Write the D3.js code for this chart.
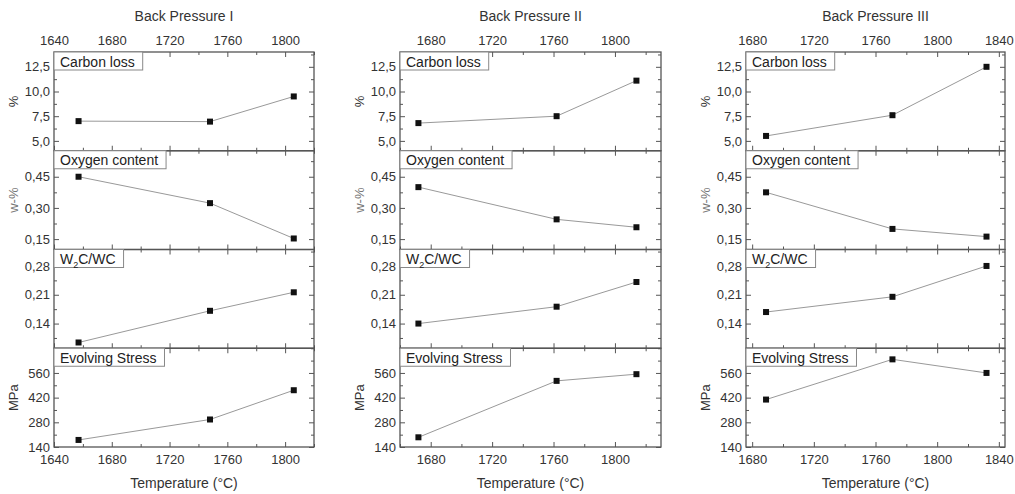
<!DOCTYPE html>
<html>
<head>
<meta charset="utf-8">
<script src="https://cdn.jsdelivr.net/npm/d3@7"></script>
<style>
  body { margin: 0; background: #fff; }
  svg { font-family: "Liberation Sans", Arial, sans-serif; }
  .tick text { fill: #333; font-size: 13px; }
  .tick line { stroke: #555; }
</style>
</head>
<body>
<div id="chart"></div>
<script>
// data
const columnTitles = ["Back Pressure I", "Back Pressure II", "Back Pressure III"]
const temperatures = [[1657, 1748, 1806], [1672, 1762, 1814], [1689, 1771, 1832]]
const carbonLoss = [[7.0, 6.95, 9.5], [6.8, 7.5, 11.1], [5.5, 7.6, 12.5]]
const oxygenContent = [[0.45, 0.323, 0.153], [0.40, 0.245, 0.207], [0.375, 0.199, 0.162]]
const w2cRatio = [[0.094, 0.171, 0.216], [0.140, 0.181, 0.241], [0.168, 0.205, 0.280]]
const evolvingStress = [[180, 296, 462], [195, 515, 553], [409, 637, 560]]

const xDomains = [[1640, 1820], [1660, 1830], [1676, 1844]]
const xTicks = [[1640, 1680, 1720, 1760, 1800], [1680, 1720, 1760, 1800], [1680, 1720, 1760, 1800, 1840]]
const xMinorTicks = [[1660, 1700, 1740, 1780, 1820], [1660, 1700, 1740, 1780, 1820], [1700, 1740, 1780, 1820]]

const rowNames = ["Carbon loss", "Oxygen content", "W2C/WC", "Evolving Stress"]
const rowUnits = ["%", "w-%", "", "MPa"]
const yDomains = [[4, 14], [0.10, 0.575], [0.08, 0.32], [140, 700]]
const yTicks = [[5, 7.5, 10, 12.5], [0.15, 0.30, 0.45], [0.14, 0.21, 0.28], [140, 280, 420, 560]]
const yMinorTicks = [[6.25, 8.75, 11.25, 13.75], [0.225, 0.375, 0.525], [0.105, 0.175, 0.245, 0.315], [210, 350, 490, 630, 700]]
const yDecimals = [1, 2, 2, 0]

const series = [carbonLoss, oxygenContent, w2cRatio, evolvingStress]

// layout
let width = 1015, height = 494
let frames = [[54, 314], [400, 661], [746, 1005]]
let plotTop = 52, plotBottom = 447
let rowH = (plotBottom - plotTop) / 4

let svg = d3.select("#chart").append("svg")
  .attr("width", width)
  .attr("height", height)

const fmt = (d, n) => d.toFixed(n).replace(".", ",")

columnTitles.forEach((title, c) => {
  let [x0, x1] = frames[c]
  let x = d3.scaleLinear().domain(xDomains[c]).range([x0, x1])

  svg.append("text")
    .attr("x", (x0 + x1) / 2).attr("y", 21)
    .attr("text-anchor", "middle")
    .attr("fill", "#333").attr("font-size", 14)
    .text(title)

  svg.append("text")
    .attr("x", (x0 + x1) / 2).attr("y", 488)
    .attr("text-anchor", "middle")
    .attr("fill", "#333").attr("font-size", 14)
    .text("Temperature (\u00B0C)")

  rowNames.forEach((name, r) => {
    let y0 = plotTop + r * rowH, y1 = y0 + rowH
    let y = d3.scaleLinear().domain(yDomains[r]).range([y1, y0])
    let g = svg.append("g")

    // x ticks, top and bottom, pointing inward
    g.append("g").attr("transform", `translate(0,${y0})`)
      .call(d3.axisTop(x).tickValues(xTicks[c]).tickSize(-5).tickPadding(7)
        .tickFormat(r === 0 ? (d => d) : () => ""))
    g.append("g").attr("transform", `translate(0,${y0})`)
      .call(d3.axisTop(x).tickValues(xMinorTicks[c]).tickSize(-3).tickFormat(""))
    g.append("g").attr("transform", `translate(0,${y1})`)
      .call(d3.axisBottom(x).tickValues(xTicks[c]).tickSize(-5).tickPadding(8)
        .tickFormat(r === 3 ? (d => d) : () => ""))
    g.append("g").attr("transform", `translate(0,${y1})`)
      .call(d3.axisBottom(x).tickValues(xMinorTicks[c]).tickSize(-3).tickFormat(""))

    // y ticks, left and right
    g.append("g").attr("transform", `translate(${x0},0)`)
      .call(d3.axisLeft(y).tickValues(yTicks[r]).tickSize(-5).tickPadding(4)
        .tickFormat(d => fmt(d, yDecimals[r])))
    g.append("g").attr("transform", `translate(${x0},0)`)
      .call(d3.axisLeft(y).tickValues(yMinorTicks[r]).tickSize(-3).tickFormat(""))
    g.append("g").attr("transform", `translate(${x1},0)`)
      .call(d3.axisRight(y).tickValues(yTicks[r]).tickSize(-5).tickFormat(""))
    g.append("g").attr("transform", `translate(${x1},0)`)
      .call(d3.axisRight(y).tickValues(yMinorTicks[r]).tickSize(-3).tickFormat(""))

    g.selectAll(".domain").remove()

    // frame
    g.append("rect")
      .attr("x", x0).attr("y", y0)
      .attr("width", x1 - x0).attr("height", y1 - y0)
      .attr("fill", "none").attr("stroke", "#555").attr("stroke-width", 1.3)

    // unit label
    if (rowUnits[r]) {
      g.append("text")
        .attr("transform", `translate(${x0 - 41},${(y0 + y1) / 2}) rotate(-90)`)
        .attr("text-anchor", "middle").attr("dy", "0.35em")
        .attr("fill", r === 1 ? "#777" : "#333").attr("font-size", 13)
        .text(rowUnits[r])
    }

    // line + markers
    let pts = temperatures[c].map((t, i) => [t, series[r][c][i]])
    g.append("path")
      .datum(pts)
      .attr("fill", "none").attr("stroke", "#999").attr("stroke-width", 1)
      .attr("d", d3.line().x(d => x(d[0])).y(d => y(d[1])))
    g.selectAll(".pt").data(pts).enter().append("rect")
      .attr("class", "pt")
      .attr("x", d => x(d[0]) - 3).attr("y", d => y(d[1]) - 3)
      .attr("width", 6).attr("height", 6)
      .attr("fill", "#111")

    // panel label box
    let box = g.append("rect")
      .attr("x", x0).attr("y", y0)
      .attr("height", 18)
      .attr("fill", "#fff").attr("stroke", "#888").attr("stroke-width", 1)
    let label = g.append("text")
      .attr("x", x0 + 6).attr("y", y0 + 14.5)
      .attr("fill", "#222").attr("font-size", 14)
    if (name === "W2C/WC") {
      label.append("tspan").text("W")
      label.append("tspan").attr("font-size", 9).attr("dy", 4).text("2")
      label.append("tspan").attr("dy", -4).text("C/WC")
    } else {
      label.text(name)
    }
    box.attr("width", label.node().getComputedTextLength() + 14)
  })
})
</script>
</body>
</html>
